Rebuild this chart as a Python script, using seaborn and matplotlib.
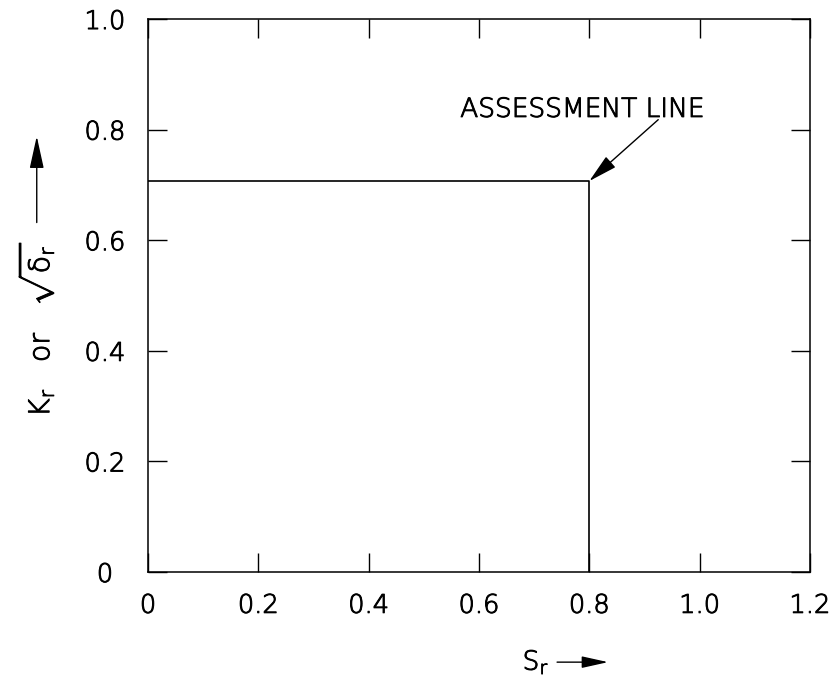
import matplotlib
matplotlib.use("Agg")
import matplotlib.pyplot as plt
import matplotlib.patheffects as pe
import seaborn as sns
import pandas as pd

# Assessment line: horizontal cut-off on Kr, vertical cut-off on Sr
sr_values = [0.0, 0.8, 0.8]
kr_values = [0.707, 0.707, 0.0]

x_ticks = [0.0, 0.2, 0.4, 0.6, 0.8, 1.0, 1.2]
x_tick_labels = ["0", "0.2", "0.4", "0.6", "0.8", "1.0", "1.2"]
y_ticks = [0.0, 0.2, 0.4, 0.6, 0.8, 1.0]
y_tick_labels = ["0", "0.2", "0.4", "0.6", "0.8", "1.0"]

annotation_text = "ASSESSMENT LINE"

sns.set_style("ticks")
plt.rcParams["font.family"] = ["DejaVu Sans"]
plt.rcParams["font.weight"] = "light"
plt.rcParams["mathtext.fontset"] = "custom"
plt.rcParams["mathtext.rm"] = "DejaVu Sans:light"
plt.rcParams["mathtext.it"] = "DejaVu Sans:light"

ink = "black"
# thin plotter-style strokes, thickened slightly
stroke = [pe.withStroke(linewidth=0.7, foreground=ink)]

fig = plt.figure(figsize=(8.35, 6.92), dpi=100)
ax = fig.add_axes([0.1772, 0.1734, 0.7928, 0.7991])

df = pd.DataFrame({"Sr": sr_values, "Kr": kr_values})
sns.lineplot(data=df, x="Sr", y="Kr", sort=False, estimator=None,
             color="black", linewidth=1.2, ax=ax)

ax.set_xlim(0, 1.2)
ax.set_ylim(0, 1.0)
ax.set_xticks(x_ticks)
ax.set_xticklabels(x_tick_labels)
ax.set_yticks(y_ticks)
ax.set_yticklabels(y_tick_labels, ha="center")
ax.set_xlabel("")
ax.set_ylabel("")

for side in ["left", "right", "top", "bottom"]:
    ax.spines[side].set_visible(True)
    ax.spines[side].set_color("black")
    ax.spines[side].set_linewidth(1.1)

ax.tick_params(axis="both", which="major", direction="in", length=13.5,
               width=1.0, color="black", labelsize=18.5, labelcolor=ink,
               top=True, right=True)
ax.tick_params(axis="x", pad=15)
ax.tick_params(axis="y", pad=31)
for lbl in ax.get_xticklabels() + ax.get_yticklabels():
    lbl.set_path_effects(stroke)

# Callout for the assessment line
ax.text(0.566, 0.823, annotation_text, fontsize=19, ha="left", va="baseline",
        color=ink, path_effects=stroke)
ax.annotate("", xy=(0.8, 0.707), xytext=(0.925, 0.818),
            arrowprops=dict(arrowstyle="-|>,head_length=0.9,head_width=0.22",
                            color="black", lw=1.0, mutation_scale=20,
                            shrinkA=0, shrinkB=0))

# Axis titles with direction arrows
ax.text(0.586, -0.163, r"S$_\mathrm{r}$", transform=ax.transAxes,
        fontsize=19, ha="center", va="center", color=ink, path_effects=stroke)
ax.annotate("", xy=(0.695, -0.163), xytext=(0.618, -0.163),
            xycoords="axes fraction", textcoords="axes fraction",
            arrowprops=dict(arrowstyle="-|>,head_length=0.9,head_width=0.2",
                            color="black", lw=1.0, mutation_scale=18,
                            shrinkA=0, shrinkB=0),
            annotation_clip=False)

ax.text(-0.168, 0.438, r"K$_\mathrm{r}$   or   $\sqrt{\mathrm{δ}_\mathrm{r}}$",
        transform=ax.transAxes, rotation=90, fontsize=20.5,
        ha="center", va="center", color=ink, path_effects=stroke)
ax.annotate("", xy=(-0.168, 0.788), xytext=(-0.168, 0.632),
            xycoords="axes fraction", textcoords="axes fraction",
            arrowprops=dict(arrowstyle="-|>,head_length=1.0,head_width=0.22",
                            color="black", lw=1.0, mutation_scale=20,
                            shrinkA=0, shrinkB=0),
            annotation_clip=False)

fig.savefig("out.png", dpi=100)
